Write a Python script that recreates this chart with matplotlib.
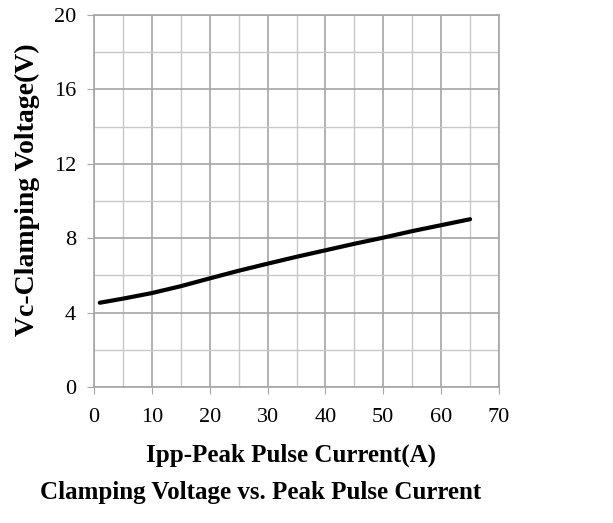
import matplotlib.pyplot as plt
from matplotlib.ticker import MultipleLocator

# Clamping voltage curve
ipp = [1, 5, 10, 15, 20, 25, 30, 35, 40, 45, 50, 55, 60, 65]
vc = [4.53, 4.75, 5.05, 5.42, 5.84, 6.25, 6.63, 7.0, 7.35, 7.7, 8.03, 8.38, 8.7, 9.02]

x_ticks = [0, 10, 20, 30, 40, 50, 60, 70]
y_ticks = [0, 4, 8, 12, 16, 20]

plt.rcParams["font.family"] = ["Liberation Serif", "DejaVu Serif"]

fig = plt.figure(figsize=(6.13, 5.23), dpi=100)
ax = fig.add_axes([94 / 613, 1 - 387 / 523, (499 - 94) / 613, (387 - 15) / 523])

ax.plot(ipp, vc, color="black", linewidth=3.0, solid_capstyle="round")

ax.set_xlim(0, 70)
ax.set_ylim(0, 20)
ax.set_xticks(x_ticks)
ax.set_yticks(y_ticks)
ax.xaxis.set_minor_locator(MultipleLocator(5))
ax.yaxis.set_minor_locator(MultipleLocator(2))
ax.grid(True, which="major", color="#a6a6a6", linewidth=1.2)
ax.grid(True, which="minor", color="#c8c8c8", linewidth=1.0)
ax.set_axisbelow(True)
for s in ax.spines.values():
    s.set_color("#a6a6a6")
    s.set_linewidth(1.2)
ax.tick_params(which="major", length=5, color="#a6a6a6", labelsize=16)
ax.tick_params(axis="x", pad=10)
ax.tick_params(axis="y", pad=8)
ax.tick_params(which="minor", length=0)

ax.set_xlabel("Ipp-Peak Pulse Current(A)", fontsize=18, fontweight="bold", va="center")
ax.xaxis.set_label_coords((291.5 - 94) / 405, (387 - 455) / 372)
ax.set_ylabel("Vc-Clamping Voltage(V)", fontsize=20, fontweight="bold", va="center")
ax.yaxis.set_label_coords((27 - 94) / 405, (387 - 190) / 372)
fig.text((40 + 482) / 2 / 613, 1 - 493 / 523, "Clamping Voltage vs. Peak Pulse Current",
         ha="center", va="center", fontsize=18, fontweight="bold")

fig.savefig("out.png", dpi=100)
